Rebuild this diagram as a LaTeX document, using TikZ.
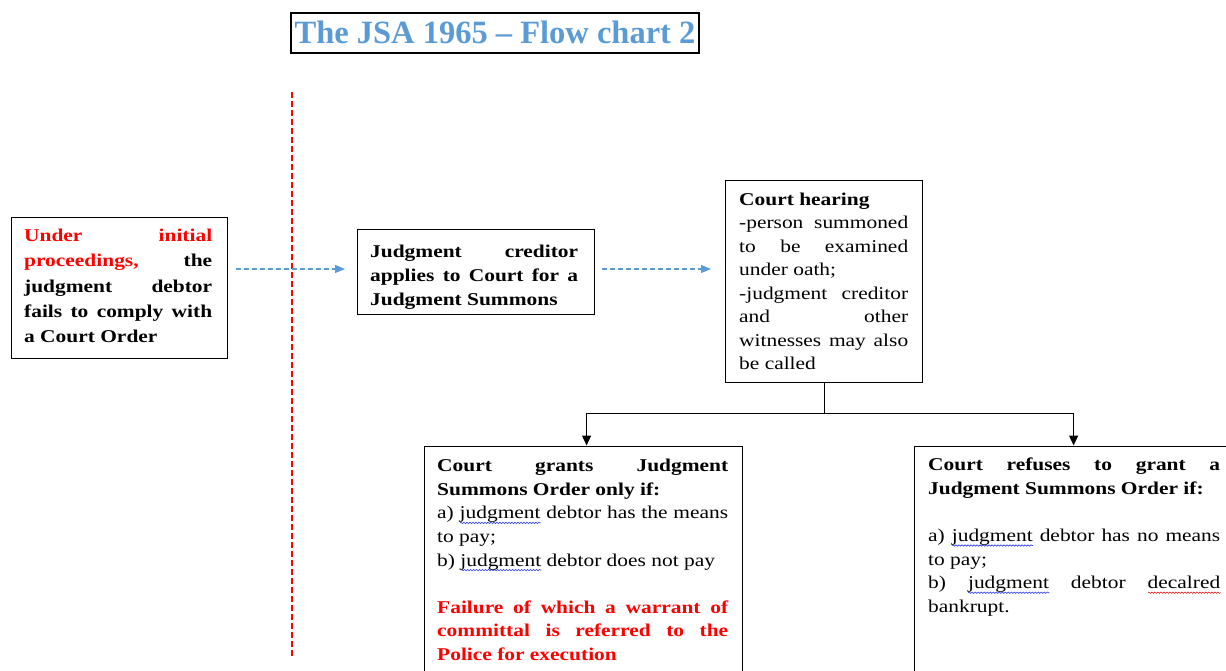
\documentclass[tikz,border=0pt]{standalone}
\usepackage{fontspec}
\setmainfont[FakeStretch=1.19]{Liberation Serif}
\newfontfamily\titlefont{Liberation Serif}
\usetikzlibrary{arrows.meta,decorations.pathmorphing}
\definecolor{tblue}{RGB}{91,155,213}
\definecolor{wblue}{RGB}{40,60,230}
\definecolor{wred}{RGB}{230,30,30}
\newcommand\wv[2]{\setbox0\hbox{#2}\rlap{\raisebox{-4pt}{\tikz[baseline=0pt]\draw[#1, line width=0.6pt, decorate, decoration={snake,amplitude=0.7pt,segment length=3pt}] (0pt,0pt) -- (\wd0,0pt);}}\box0\relax}
\tikzset{
  box/.style={draw, line width=1.2pt, anchor=north west, inner sep=0pt},
  txt/.style={inner sep=0pt, anchor=base west, align=justify},
  barrow/.style={draw=tblue, line width=1.1pt, dash pattern=on 5pt off 3pt, -{Triangle[length=10pt,width=8pt]}},
  karrow/.style={draw=black, line width=1pt, -{Triangle[length=10pt,width=9pt]}},
}
\begin{document}
\begin{tikzpicture}[x=1pt,y=-1pt]
\useasboundingbox (0,0) rectangle (1226,670);
% title
\node[draw, line width=2pt, minimum width=408pt, minimum height=40pt, inner sep=0pt,
      text height=22pt, text depth=2pt, text=tblue, font=\titlefont\bfseries\fontsize{32.5}{36}\selectfont]
  (title) at (495,33) {The JSA 1965 – Flow chart 2};
% red dashed line
\draw[red, line width=2pt, dash pattern=on 6pt off 3pt] (291.5,92) -- (291.5,658);
% box 1
\node[box, minimum width=216pt, minimum height=141pt] (b1) at (11,217) {};
\node[txt, text width=188pt, font=\bfseries\fontsize{18}{25.2}\selectfont] (t1) at (24,241.7)
  {{\color{red}Under initial}\linebreak {\color{red}proceedings,} the\linebreak judgment debtor\linebreak fails to comply with\linebreak a Court Order};
% box 2
\node[box, minimum width=237pt, minimum height=85pt] (b2) at (357,229) {};
\node[txt, text width=208pt, font=\bfseries\fontsize{18}{24.3}\selectfont] (t2) at (370,257)
  {Judgment creditor\linebreak applies to Court for a\linebreak Judgment Summons};
% box 3
\node[box, minimum width=197pt, minimum height=202pt] (b3) at (725,180) {};
\node[txt, text width=169pt, font=\fontsize{18}{23.5}\selectfont] (t3) at (739,205)
  {\textbf{Court hearing}\\ -person summoned\linebreak to be examined\linebreak under oath;\\ -judgment creditor\linebreak and other\linebreak witnesses may also\linebreak be called};
% box 4
\node[box, minimum width=318pt, minimum height=240pt] (b4) at (424,445.5) {};
\node[txt, text width=291pt, font=\fontsize{18}{23.6}\selectfont] (t4) at (437,471.7)
  {\textbf{Court grants Judgment\linebreak Summons Order only if:}\\ a) \wv{wblue}{judgment} debtor has the means\linebreak to pay;\\ b) \wv{wblue}{judgment} debtor does not pay\par\mbox{}\par {\bfseries\color{red}Failure of which a warrant of\linebreak committal is referred to the\linebreak Police for execution}};
% box 5
\node[box, minimum width=318pt, minimum height=240pt] (b5) at (914,445.5) {};
\node[txt, text width=292pt, font=\fontsize{18}{23.6}\selectfont] (t5) at (928,470.7)
  {\textbf{Court refuses to grant a\linebreak Judgment Summons Order if:}\par\mbox{}\par a) \wv{wblue}{judgment} debtor has no means\linebreak to pay;\\ b) \wv{wblue}{judgment} debtor \wv{wred}{decalred}\linebreak bankrupt.};
% connectors
\coordinate (py) at (0,269);
\draw[barrow, shorten <=8pt, shorten >=12pt] (b1.east |- py) -- (b2.west |- py);
\draw[barrow, shorten <=7pt, shorten >=14pt] (b2.east |- py) -- (b3.west |- py);
\draw[line width=1pt] (b3.south) -- ++(0,30.5) coordinate (sp);
\draw[karrow] (sp) -| ([xshift=3pt]b4.north);
\draw[karrow] (sp) -| (b5.north);
\end{tikzpicture}
\end{document}
